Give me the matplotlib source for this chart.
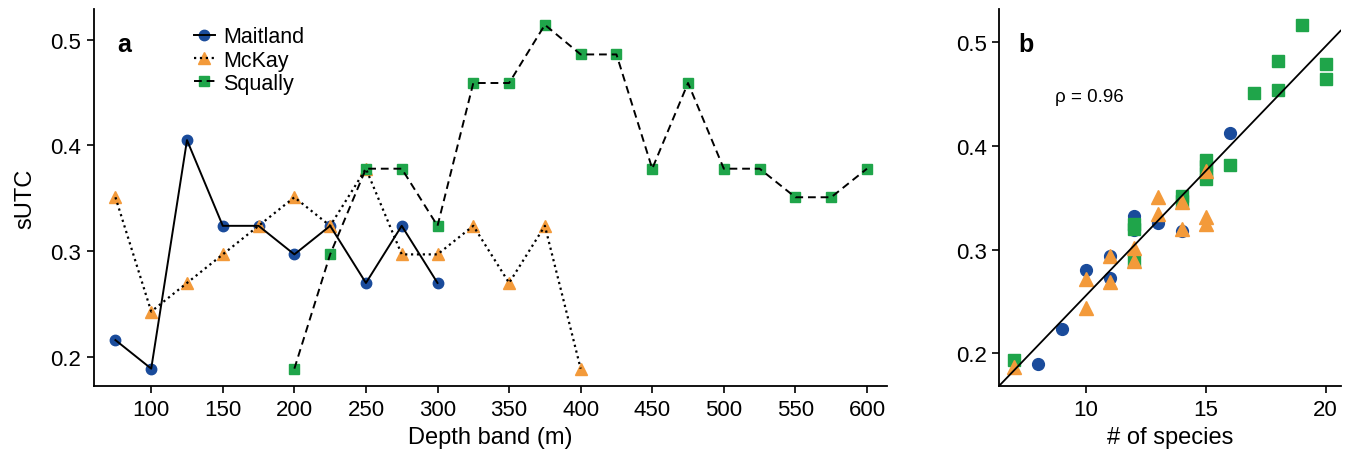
import matplotlib.pyplot as plt
from matplotlib.legend_handler import HandlerTuple

plt.rcParams['font.family'] = ['Liberation Sans', 'DejaVu Sans']

# panel a: sUTC by depth band
maitland_depth = [75, 100, 125, 150, 175, 200, 225, 250, 275, 300]
maitland_sutc = [0.216, 0.189, 0.405, 0.324, 0.324, 0.297, 0.324, 0.270, 0.324, 0.270]

mckay_depth = [75, 100, 125, 150, 175, 200, 225, 250, 275, 300, 325, 350, 375, 400]
mckay_sutc = [0.351, 0.243, 0.270, 0.297, 0.324, 0.351, 0.324, 0.378, 0.297, 0.297,
              0.324, 0.270, 0.324, 0.189]

squally_depth = [200, 225, 250, 275, 300, 325, 350, 375, 400, 425, 450, 475, 500,
                 525, 550, 575, 600]
squally_sutc = [0.189, 0.297, 0.378, 0.378, 0.324, 0.459, 0.459, 0.514, 0.486, 0.486,
                0.378, 0.459, 0.378, 0.378, 0.351, 0.351, 0.378]

# panel b: sUTC vs number of species
maitland_nsp = [8, 9, 10, 11, 11, 12, 12, 13, 14, 16]
maitland_b = [0.190, 0.2235, 0.280, 0.273, 0.294, 0.332, 0.319, 0.326, 0.318, 0.4125]

mckay_nsp = [7, 10, 10, 11, 11, 12, 12, 13, 13, 14, 14, 15, 15, 15]
mckay_b = [0.1865, 0.272, 0.244, 0.294, 0.2685, 0.302, 0.289, 0.3505, 0.334, 0.3457,
           0.320, 0.331, 0.3248, 0.376]

squally_nsp = [7, 12, 12, 12, 14, 14, 15, 15, 15, 15, 16, 17, 18, 18, 19, 20, 20]
squally_b = [0.1936, 0.325, 0.320, 0.289, 0.352, 0.347, 0.3865, 0.381, 0.374, 0.368,
             0.382, 0.4508, 0.4814, 0.4534, 0.5161, 0.479, 0.4646]

fit_slope = 0.02402
fit_intercept = 0.0155
rho_text = 'ρ = 0.96'

blue = '#1a4b9b'
orange = '#f39a3a'
green = '#1fa54a'

fig = plt.figure(figsize=(13.46, 4.52), dpi=100)
ax1 = fig.add_axes([0.0698, 0.1438, 0.5892, 0.8342])
ax2 = fig.add_axes([0.7422, 0.1438, 0.2538, 0.8342])

for ax in (ax1, ax2):
    ax.spines['top'].set_visible(False)
    ax.spines['right'].set_visible(False)
    ax.spines['left'].set_linewidth(1.3)
    ax.spines['bottom'].set_linewidth(1.3)
    ax.tick_params(direction='out', length=5, width=1.2, labelsize=16, pad=4)
    ax.set_yticks([0.2, 0.3, 0.4, 0.5])
    ax.set_yticklabels(['0.2', '0.3', '0.4', '0.5'])

# panel a
m1, = ax1.plot(maitland_depth, maitland_sutc, 'o', color=blue, ms=7.5, ls='none', zorder=2)
l1, = ax1.plot(maitland_depth, maitland_sutc, '-', color='black', lw=1.4, zorder=3)
m2, = ax1.plot(mckay_depth, mckay_sutc, '^', color=orange, ms=8.5, ls='none', zorder=2)
l2, = ax1.plot(mckay_depth, mckay_sutc, ':', color='black', lw=1.6, zorder=3)
m3, = ax1.plot(squally_depth, squally_sutc, 's', color=green, ms=7, ls='none', zorder=2)
l3, = ax1.plot(squally_depth, squally_sutc, '--', color='black', lw=1.4, dashes=(4, 2.5), zorder=3)

ax1.set_xlim(60, 614)
ax1.set_ylim(0.1726, 0.529)
ax1.set_xticks(range(100, 601, 50))
ax1.set_xlabel('Depth band (m)', fontsize=17, labelpad=5)
ax1.set_ylabel('sUTC', fontsize=17, labelpad=10)
ax1.text(0.029, 0.889, 'a', transform=ax1.transAxes, fontsize=18, fontweight='bold')

ax1.legend([(m1, l1), (m2, l2), (m3, l3)], ['Maitland', 'McKay', 'Squally'],
           handler_map={tuple: HandlerTuple(ndivide=1)},
           loc='upper left', bbox_to_anchor=(0.11, 0.988), frameon=False,
           fontsize=15.5, handlelength=0.95, handletextpad=0.4, labelspacing=0.1,
           borderaxespad=0.2)

# panel b
ax2.plot(maitland_nsp, maitland_b, 'o', color=blue, ms=8.5, ls='none', zorder=2)
ax2.plot(squally_nsp, squally_b, 's', color=green, ms=8.5, ls='none', zorder=2)
ax2.plot(mckay_nsp, mckay_b, '^', color=orange, ms=9.5, ls='none', zorder=2)
ax2.axline((0, fit_intercept), slope=fit_slope, color='black', lw=1.3, zorder=3)

ax2.set_xlim(6.37, 20.63)
ax2.set_ylim(0.1685, 0.532)
ax2.set_xticks([10, 15, 20])
ax2.set_xlabel('# of species', fontsize=17, labelpad=5)
ax2.text(0.056, 0.889, 'b', transform=ax2.transAxes, fontsize=18, fontweight='bold')
ax2.text(0.164, 0.756, rho_text, transform=ax2.transAxes, fontsize=13.5)

fig.savefig('out.png', dpi=100)
